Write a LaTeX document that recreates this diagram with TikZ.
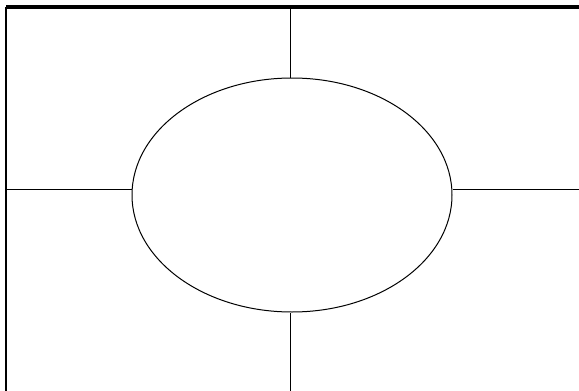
\documentclass[tikz,border=0pt]{standalone}
\usepackage{tikz}
\usetikzlibrary{shapes.geometric,positioning,calc}

\begin{document}
\begin{tikzpicture}[x=1pt, y=-1pt]
        \useasboundingbox (0,0) rectangle (579,391);
        \tikzset{frameline/.style={black, line width=3.2pt},
                 thinline/.style={black, line width=1pt}}
        % outer frame (top and left edges)
        \coordinate (tl) at (6,7);
        \coordinate (tr) at (579,7);
        \coordinate (bl) at (6,391);
        \draw[frameline] (tr) -- (tl);
        \draw[black, line width=2.6pt] (tl) -- (bl);
        % central ellipse
        \node[ellipse, draw, thinline, minimum width=320pt, minimum height=234pt, inner sep=0pt] (ell) at (292,195) {};
        \coordinate (n) at (290,8);
        \coordinate (s) at (290,391);
        \coordinate (w) at (7,189);
        \coordinate (e) at (579,189);
        \draw[thinline] (n) -- (n |- ell.north);
        \draw[thinline] (s) -- (s |- ell.south);
        \draw[thinline] (w) -- (ell.west |- w);
        \draw[thinline] (e) -- (ell.east |- e);
    \end{tikzpicture}
\end{document}
